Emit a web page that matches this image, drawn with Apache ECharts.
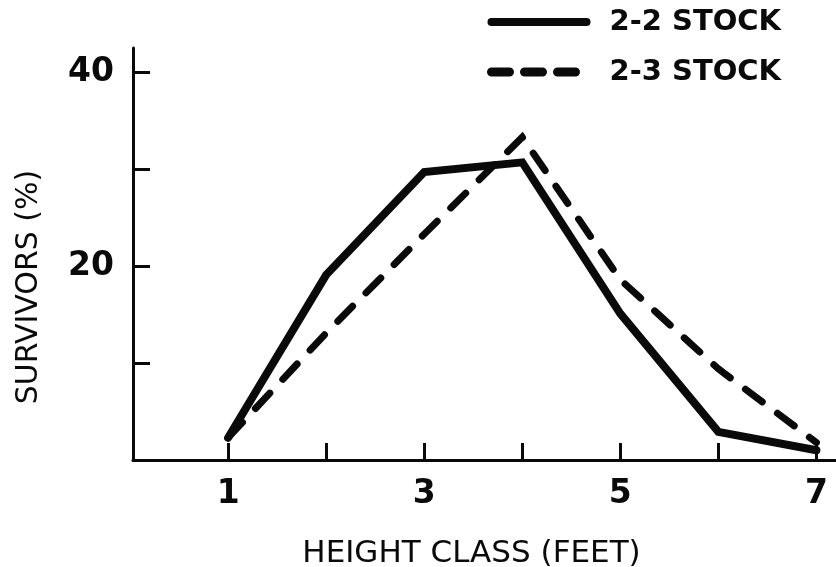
<!DOCTYPE html>
<html>
<head>
<meta charset="utf-8">
<script src="https://cdn.jsdelivr.net/npm/echarts@6/dist/echarts.min.js"></script>
<style>
  html, body { margin: 0; padding: 0; background: #fff; }
  #chart { width: 836px; height: 567px; }
</style>
</head>
<body>
<div id="chart"></div>
<script>
// Height classes (feet) and percent of survivors in each class
var heightClasses = [1, 2, 3, 4, 5, 6, 7];
var stock22 = [2.3, 19.1, 29.7, 30.7, 15.1, 2.9, 1.0];
var stock23 = [2.3, 13.1, 23.3, 33.3, 18.6, 9.4, 1.8];

var xTickValues = [1, 2, 3, 4, 5, 6, 7];
var xLabelValues = [1, 3, 5, 7];
var yTickValues = [10, 20, 30, 40];
var yLabelValues = [20, 40];

var seriesNames = ['2-2 STOCK', '2-3 STOCK'];

function pairs(xs, ys) {
  return xs.map(function (x, i) { return [x, ys[i]]; });
}

var FONT = 'DejaVu Sans';
var INK = '#0a0a0a';

var chart = echarts.init(document.getElementById('chart'), null, { renderer: 'canvas' });

chart.setOption({
  backgroundColor: '#ffffff',
  animation: false,
  grid: { left: 133, right: 0, top: 48, bottom: 107, containLabel: false, outerBoundsMode: 'none' },
  legend: {
    orient: 'vertical',
    left: 482,
    top: 2,
    itemWidth: 95,
    itemHeight: 14,
    itemGap: 20,
    selectedMode: false,
    textStyle: {
      fontFamily: FONT, fontSize: 29, fontWeight: 'bold', color: INK, lineHeight: 30,
      padding: [0, 0, 0, 18]
    },
    data: [
      {
        name: seriesNames[0],
        itemStyle: { opacity: 0 },
        lineStyle: { width: 8, type: 'solid', cap: 'round', color: INK }
      },
      {
        name: seriesNames[1],
        itemStyle: { opacity: 0 },
        lineStyle: { width: 9, type: [18, 15], cap: 'round', color: INK }
      }
    ]
  },
  xAxis: {
    type: 'value',
    min: 0.03,
    max: 7.2,
    name: 'HEIGHT CLASS (FEET)',
    nameLocation: 'middle',
    nameGap: 78,
    nameTextStyle: { fontFamily: FONT, fontSize: 31, color: INK, padding: [0, 26, 0, 0] },
    axisLine: { show: true, lineStyle: { color: INK, width: 3 } },
    axisTick: { show: true, inside: true, length: 17, lineStyle: { color: INK, width: 3 }, customValues: xTickValues },
    axisLabel: { show: true, margin: 18, fontFamily: FONT, fontSize: 33, fontWeight: 'bold', color: INK, customValues: xLabelValues },
    splitLine: { show: false }
  },
  yAxis: {
    type: 'value',
    min: 0,
    max: 42.5,
    name: 'SURVIVORS (%)',
    nameLocation: 'middle',
    nameGap: 89,
    nameRotate: 90,
    nameTextStyle: { fontFamily: FONT, fontSize: 30, color: INK, padding: [0, 66, 0, 0] },
    axisLine: { show: true, lineStyle: { color: INK, width: 3 } },
    axisTick: { show: true, inside: true, length: 17, lineStyle: { color: INK, width: 3 }, customValues: yTickValues },
    axisLabel: { show: true, margin: 19, fontFamily: FONT, fontSize: 33, fontWeight: 'bold', color: INK, customValues: yLabelValues },
    splitLine: { show: false }
  },
  series: [
    {
      name: seriesNames[0],
      type: 'line',
      data: pairs(heightClasses, stock22),
      symbol: 'none',
      lineStyle: { color: INK, width: 8, type: 'solid', cap: 'round', join: 'miter' },
      itemStyle: { color: INK },
      z: 3
    },
    {
      name: seriesNames[1],
      type: 'line',
      data: pairs(heightClasses, stock23),
      symbol: 'none',
      lineStyle: { color: INK, width: 7, type: [21, 19], cap: 'round', join: 'miter' },
      itemStyle: { color: INK },
      z: 2
    }
  ]
});
</script>
</body>
</html>
